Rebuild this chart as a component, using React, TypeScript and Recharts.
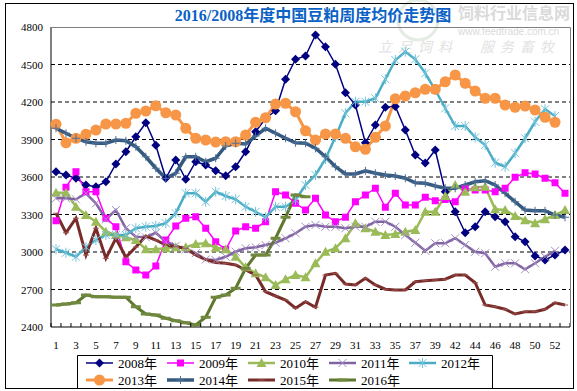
import React from "react";
import { LineChart, Line, XAxis, YAxis, CartesianGrid } from "recharts";

// week numbers (week 40 is missing in the source)
const weekLabels = [
  "1", "2", "3", "4", "5", "6", "7", "8", "9", "10", "11", "12", "13",
  "14", "15", "16", "17", "18", "19", "20", "21", "22", "23", "24", "25", "26",
  "27", "28", "29", "30", "31", "32", "33", "34", "35", "36", "37", "38", "39",
  "41", "42", "43", "44", "45", "46", "47", "48", "49", "50", "51", "52", "53",
];

const yTicks = [2400, 2700, 3000, 3300, 3600, 3900, 4200, 4500, 4800];
const gridValues = [2700, 3000, 3300, 3600, 3900, 4200, 4500];

const y2008 = [
  3642, 3616, 3590, 3536, 3522, 3562, 3704, 3802, 3922, 4034, 3854, 3590, 3736,
  3582, 3722, 3696, 3650, 3610, 3682, 3802, 3962, 4070, 4130, 4382, 4542, 4568,
  4736, 4642, 4502, 4274, 4176, 3874, 4016, 4158, 4164, 3976, 3776, 3712, 3816,
  3482, 3322, 3154, 3202, 3322, 3282, 3242, 3122, 3082, 2968, 2936, 2976, 3016,
];
const y2009 = [
  3250, 3518, 3642, 3482, 3482, 3270, 3202, 2922, 2856, 2816, 2888, 3096, 3208,
  3270, 3282, 3190, 3082, 3020, 3168, 3202, 3190, 3242, 3482, 3456, 3390, 3336,
  3430, 3296, 3242, 3278, 3402, 3456, 3510, 3358, 3470, 3376, 3376, 3438, 3410,
  3420, 3402, 3510, 3496, 3496, 3482, 3510, 3598, 3634, 3624, 3590, 3554, 3470,
];
const y2010 = [
  3474, 3474, 3362, 3296, 3242, 3162, 3136, 3118, 3096, 3022, 3022, 3030, 3038,
  3038, 3064, 3070, 3034, 3022, 2962, 2878, 2830, 2798, 2736, 2782, 2816, 2798,
  2910, 3002, 3030, 3110, 3230, 3190, 3162, 3136, 3144, 3162, 3176, 3322, 3322,
  3448, 3536, 3482, 3518, 3522, 3342, 3336, 3288, 3254, 3230, 3262, 3296, 3336,
];
const y2011 = [
  3430, 3430, 3422, 3470, 3390, 3262, 3336, 3190, 3122, 3118, 3154, 3082, 3050,
  3020, 2990, 2940, 2936, 2962, 3002, 3030, 3038, 3056, 3074, 3110, 3150, 3202,
  3216, 3202, 3202, 3190, 3202, 3202, 3242, 3242, 3202, 3136, 3074, 3010, 3070,
  3070, 3110, 3056, 3002, 2990, 2882, 2910, 2910, 2862, 2910, 2962, 3010, null,
];
const y2012 = [
  3022, 2994, 2962, 3038, 3096, 3136, 3136, 3136, 3190, 3202, 3208, 3230, 3310,
  3470, 3470, 3402, 3482, 3448, 3422, 3362, 3322, 3278, 3362, 3362, 3416, 3536,
  3616, 3744, 3922, 4110, 4202, 4202, 4230, 4382, 4536, 4602, 4542, 4430, 4296,
  4150, 4008, 4008, 3918, 3856, 3714, 3682, 3790, 3910, 4042, 4142, 4088, null,
];
const y2013 = [
  4022, 3874, 3910, 3942, 3976, 4024, 4024, 4030, 4110, 4128, 4170, 4114, 4096,
  3990, 3910, 3896, 3880, 3882, 3882, 3936, 4038, 4074, 4184, 4190, 4122, 3970,
  3896, 3944, 3944, 3910, 3842, 3822, 3918, 4008, 4226, 4248, 4274, 4302, 4302,
  4362, 4416, 4350, 4288, 4230, 4230, 4176, 4158, 4168, 4136, 4078, 4038, null,
];
const y2014 = [
  3990, 3950, 3910, 3882, 3870, 3870, 3896, 3890, 3842, 3762, 3670, 3590, 3630,
  3762, 3762, 3722, 3750, 3848, 3870, 3864, 3928, 3990, 3950, 3910, 3874, 3870,
  3830, 3762, 3682, 3624, 3624, 3650, 3630, 3616, 3608, 3590, 3554, 3550, 3528,
  3510, 3510, 3536, 3562, 3570, 3536, 3470, 3402, 3336, 3330, 3330, 3296, 3278,
];
const y2015 = [
  3310, 3154, 3270, 2976, 3190, 2950, 3110, 2958, 3040, 3128, 3096, 3056, 3042,
  3030, 2976, 2940, 2916, 2910, 2896, 2856, 2816, 2682, 2648, 2616, 2550, 2602,
  2558, 2816, 2830, 2744, 2736, 2790, 2736, 2702, 2696, 2696, 2762, 2770, 2776,
  2782, 2816, 2816, 2754, 2576, 2562, 2542, 2504, 2522, 2522, 2542, 2594, 2576,
];
const y2016 = [
  2576, 2584, 2594, 2656, 2642, 2642, 2638, 2638, 2562, 2504, 2496, 2470, 2450,
  2434, 2416, 2478, 2638, 2656, 2710, 2870, 2976, 2976, 3110, 3278, 3456, 3442,
  null, null, null, null, null, null, null, null, null, null, null, null, null,
  null, null, null, null, null, null, null, null, null, null, null, null, null,
];

type Shape = "diamond" | "square" | "triangle" | "cross" | "star" | "circle" | "plus" | "dash" | "bar";

type Series = {
  key: string;
  name: string;
  values: (number | null)[];
  color: string;
  markColor: string;
  width: number;
  shape: Shape;
};

const series: Series[] = [
  { key: "s2008", name: "2008年", values: y2008, color: "#000080", markColor: "#000080", width: 1.5, shape: "diamond" },
  { key: "s2009", name: "2009年", values: y2009, color: "#FF00FF", markColor: "#FF00FF", width: 1.5, shape: "square" },
  { key: "s2010", name: "2010年", values: y2010, color: "#9BBB59", markColor: "#9BBB59", width: 2.5, shape: "triangle" },
  { key: "s2011", name: "2011年", values: y2011, color: "#8064A2", markColor: "#A48DC4", width: 2.5, shape: "cross" },
  { key: "s2012", name: "2012年", values: y2012, color: "#4BACC6", markColor: "#72C3D8", width: 2.5, shape: "star" },
  { key: "s2013", name: "2013年", values: y2013, color: "#F79646", markColor: "#F79646", width: 3, shape: "circle" },
  { key: "s2014", name: "2014年", values: y2014, color: "#36597F", markColor: "#4C6F96", width: 3.5, shape: "plus" },
  { key: "s2015", name: "2015年", values: y2015, color: "#772C2A", markColor: "#A05550", width: 3, shape: "dash" },
  { key: "s2016", name: "2016年", values: y2016, color: "#5F772E", markColor: "#71893E", width: 3, shape: "bar" },
];

const data = weekLabels.map((w, i) => {
  const row: Record<string, any> = { week: w };
  series.forEach((s) => {
    row[s.key] = s.values[i];
  });
  return row;
});

const serif = "'Liberation Serif', 'Times New Roman', 'Noto Sans CJK SC', serif";

function marker(shape: Shape, color: string, cx: number, cy: number, key?: string) {
  switch (shape) {
    case "diamond":
      return <path key={key} d={`M${cx},${cy - 4.5}L${cx + 4.5},${cy}L${cx},${cy + 4.5}L${cx - 4.5},${cy}Z`} fill={color} />;
    case "square":
      return <rect key={key} x={cx - 3.5} y={cy - 3.5} width={7} height={7} fill={color} />;
    case "triangle":
      return <path key={key} d={`M${cx},${cy - 5}L${cx + 5},${cy + 4}L${cx - 5},${cy + 4}Z`} fill={color} />;
    case "cross":
      return (
        <path key={key} d={`M${cx - 4},${cy - 4}L${cx + 4},${cy + 4}M${cx - 4},${cy + 4}L${cx + 4},${cy - 4}`} stroke={color} strokeWidth={1} />
      );
    case "star":
      return (
        <path
          key={key}
          d={`M${cx - 4},${cy - 4}L${cx + 4},${cy + 4}M${cx - 4},${cy + 4}L${cx + 4},${cy - 4}M${cx},${cy - 5}L${cx},${cy + 5}`}
          stroke={color}
          strokeWidth={1}
        />
      );
    case "circle":
      return <circle key={key} cx={cx} cy={cy} r={5.5} fill={color} />;
    case "plus":
      return <path key={key} d={`M${cx - 4},${cy}L${cx + 4},${cy}M${cx},${cy - 4}L${cx},${cy + 4}`} stroke={color} strokeWidth={1} />;
    case "dash":
      return <path key={key} d={`M${cx - 3},${cy}L${cx + 3},${cy}`} stroke={color} strokeWidth={1} />;
    case "bar":
      return <rect key={key} x={cx - 5} y={cy - 1.5} width={10} height={3} fill={color} />;
  }
  return null;
}

function makeDot(s: Series) {
  return (props: any) => {
    const { cx, cy, index } = props;
    if (cx == null || cy == null || props.value == null) return <g key={`${s.key}-${index}`} />;
    return <g key={`${s.key}-${index}`}>{marker(s.shape, s.markColor, cx, cy)}</g>;
  };
}

function YTick(props: any) {
  const { y, payload } = props;
  return (
    <text x={43} y={y} dy={4} textAnchor="end" fontSize={11} fontFamily={serif} fill="#000">
      {payload.value}
    </text>
  );
}

function XTick(props: any) {
  const { x, y, payload, index } = props;
  return (
    <g>
      <line x1={x - 5} x2={x - 5} y1={y - 4} y2={y} stroke="#000" />
      {index === weekLabels.length - 1 && <line x1={x + 5} x2={x + 5} y1={y - 4} y2={y} stroke="#000" />}
      {index % 2 === 0 && (
        <text x={x} y={y + 22} textAnchor="middle" fontSize={11} fontFamily={serif} fill="#000">
          {payload.value}
        </text>
      )}
    </g>
  );
}

const legendX = [86, 167, 248, 329, 409];
const legendRowY = [363, 380];

export default function App() {
  return (
    <div style={{ position: "relative", width: 577, height: 391, background: "#fff", overflow: "hidden" }}>
      <style>{"body{margin:0}"}</style>

      {/* watermark */}
      <svg width={577} height={391} style={{ position: "absolute", left: 0, top: 0 }}>
        <circle cx={418} cy={20} r={20} fill="none" stroke="#E3EDE3" strokeWidth={3} />
        <text x={458} y={19} fontSize={16} fontWeight="bold" fontFamily="'Noto Sans CJK SC', sans-serif" fill="#DADADA">
          饲料行业信息网
        </text>
        <text x={458} y={35} fontSize={10} fontFamily="Arial, 'Liberation Sans', sans-serif" fill="#DADADA">
          www.feedtrade.com.cn
        </text>
        <text x={378} y={52} fontSize={14} fontStyle="italic" fontFamily="'Noto Sans CJK SC', sans-serif" fill="#E2E2E2" letterSpacing={6}>
          立足饲料
        </text>
        <text x={480} y={52} fontSize={14} fontStyle="italic" fontFamily="'Noto Sans CJK SC', sans-serif" fill="#E2E2E2" letterSpacing={6}>
          服务畜牧
        </text>
      </svg>

      <div style={{ position: "absolute", left: 0, top: 0 }}>
        <LineChart width={577} height={391} data={data} margin={{ top: 27, right: 7, left: 0, bottom: 0 }}>
          <CartesianGrid vertical={false} horizontalValues={gridValues} stroke="#000" strokeDasharray="4 3" />
          <XAxis
            dataKey="week"
            height={64}
            interval={0}
            padding={{ left: 5, right: 5 }}
            axisLine={{ stroke: "#000" }}
            tickLine={false}
            tickSize={0}
            tickMargin={0}
            tick={<XTick />}
          />
          <YAxis
            width={51}
            domain={[2400, 4800]}
            ticks={yTicks}
            interval={0}
            axisLine={{ stroke: "#000" }}
            tickLine={false}
            tick={<YTick />}
          />
          {series.map((s) => (
            <Line
              key={s.key}
              dataKey={s.key}
              name={s.name}
              stroke={s.color}
              strokeWidth={s.width}
              dot={makeDot(s)}
              activeDot={false}
              connectNulls={false}
              isAnimationActive={false}
            />
          ))}
        </LineChart>
      </div>

      <svg width={577} height={391} style={{ position: "absolute", left: 0, top: 0, pointerEvents: "none" }}>
        {/* outer frame */}
        <rect x={5.5} y={3.5} width={568} height={385} fill="none" stroke="#000" />
        {/* plot frame (top, right) */}
        <path d="M51,27.5H570.5V327" fill="none" stroke="#808080" />

        <text
          x={313}
          y={21}
          textAnchor="middle"
          fontSize={16}
          fontWeight="bold"
          fontFamily={serif}
          fill="#0A62C6"
        >
          2016/2008年度中国豆粕周度均价走势图
        </text>

        {/* legend */}
        <path d="M77.5,388V355.5H492.5V388" fill="none" stroke="#000" />
        {series.map((s, i) => {
          const row = i < 5 ? 0 : 1;
          const col = i < 5 ? i : i - 5;
          const x = legendX[col];
          const y = legendRowY[row];
          return (
            <g key={s.key}>
              <line x1={x} x2={x + 27} y1={y} y2={y} stroke={s.color} strokeWidth={s.width} />
              {marker(s.shape, s.markColor, x + 13.5, y)}
              <text x={x + 32} y={y + 4.5} fontSize={13} fontFamily={serif} fill="#000">
                {s.name}
              </text>
            </g>
          );
        })}
      </svg>
    </div>
  );
}
